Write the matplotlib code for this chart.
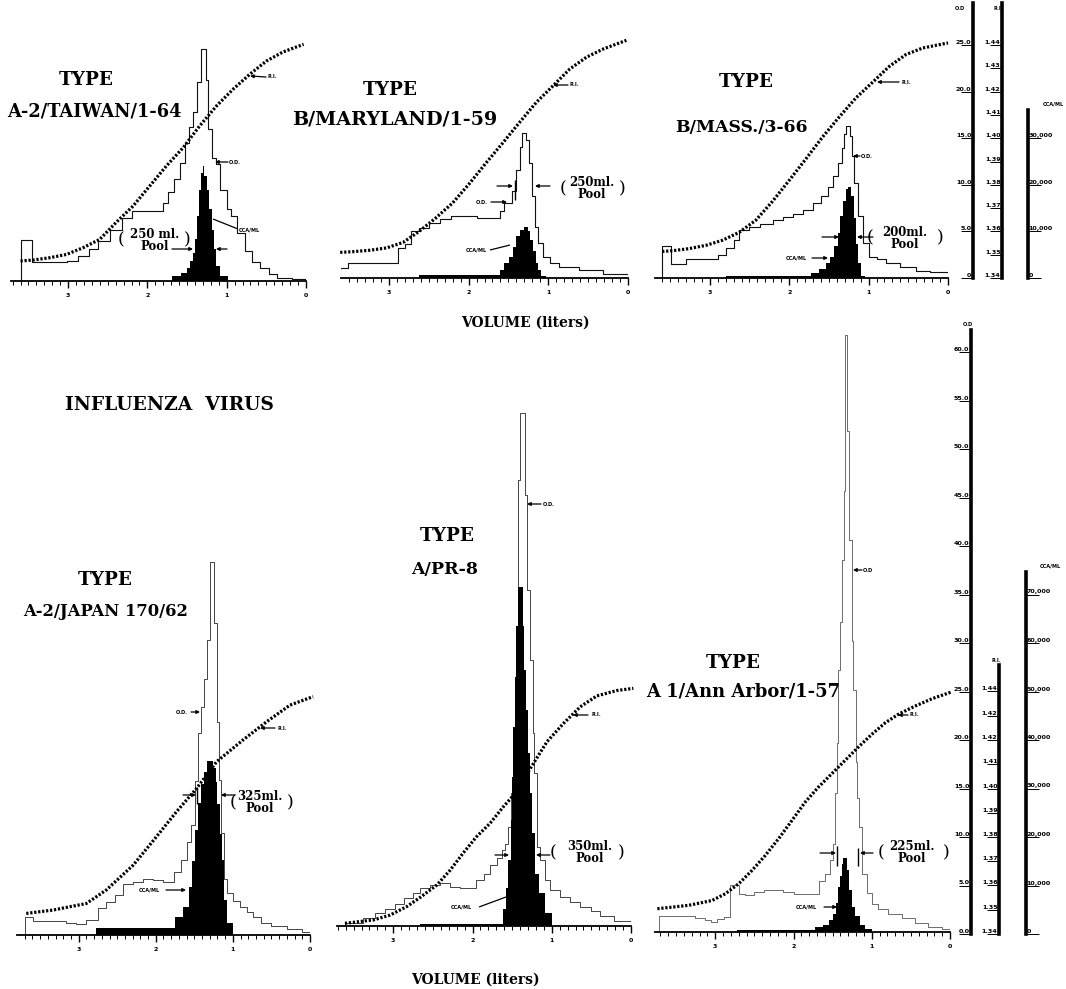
import numpy as np
import matplotlib
matplotlib.use('Agg')
import matplotlib.pyplot as plt
from matplotlib.ticker import FixedLocator

# ---------------- data (volume in liters, O.D., CCA/ML, R.I.) ----------------
titles = [("TYPE", "A-2/TAIWAN/1-64"), ("TYPE", "B/MARYLAND/1-59"), ("TYPE", "B/MASS./3-66"),
          ("TYPE", "A-2/JAPAN 170/62"), ("TYPE", "A/PR-8"), ("TYPE", "A 1/Ann Arbor/1-57")]
pool_sizes = ["250 ml.", "250ml.", "200ml.", "325ml.", "350ml.", "225ml."]

# Panel 1  A-2/TAIWAN/1-64
p1_od_vol = [3.60, 3.46, 3.02, 2.87, 2.74, 2.62, 2.47, 2.32, 2.20, 1.80, 1.74, 1.67, 1.59, 1.53, 1.48,
             1.43, 1.38, 1.32, 1.265, 1.23, 1.19, 1.13, 1.08, 1.00, 0.94, 0.87, 0.77, 0.68, 0.58, 0.47,
             0.37, 0.18, 0.0]
p1_od = [4.4, 2.0, 2.1, 2.7, 3.4, 4.3, 5.5, 6.8, 7.5, 8.4, 9.5, 10.9, 12.7, 14.8, 16.5, 18.1, 21.3, 24.9,
         21.6, 16.3, 13.2, 12.5, 9.8, 7.7, 7.0, 5.2, 3.2, 2.0, 1.4, 0.7, 0.36, 0.25]
p1_cca_vol = [1.69, 1.57, 1.50, 1.46, 1.43, 1.40, 1.37, 1.345, 1.32, 1.30, 1.28, 1.25, 1.22, 1.19, 1.16,
              1.13, 1.08, 0.98]
p1_cca = [1080, 1800, 2800, 4200, 6000, 9000, 14000, 19600, 23200, 24600, 22600, 19600, 15400, 11000,
          6800, 3200, 1080]
p1_ri_vol = [3.60, 3.44, 3.23, 3.02, 2.81, 2.60, 2.39, 2.18, 1.97, 1.76, 1.55, 1.34, 1.13, 0.92, 0.71,
             0.50, 0.29, 0.03]
p1_ri = [1.3486, 1.3490, 1.3500, 1.3514, 1.3543, 1.3579, 1.3653, 1.3722, 1.3808, 1.3894, 1.3972, 1.4066,
         1.4151, 1.4223, 1.4287, 1.4344, 1.4383, 1.4416]

# Panel 2  B/MARYLAND/1-59
p2_od_vol = [3.61, 3.51, 2.89, 2.80, 2.72, 2.62, 2.49, 2.36, 2.22, 1.90, 1.61, 1.55, 1.46, 1.40, 1.36,
             1.33, 1.28, 1.24, 1.21, 1.17, 1.13, 1.07, 0.98, 0.86, 0.61, 0.31, 0.0]
p2_od = [1.07, 1.6, 3.2, 3.6, 5.0, 5.4, 5.9, 6.3, 6.7, 6.4, 7.15, 8.0, 9.3, 11.6, 14.1, 15.6, 14.8, 12.3,
         8.8, 5.5, 3.8, 2.3, 1.6, 1.2, 0.82, 0.46]
p2_cca_vol = [2.62, 1.61, 1.55, 1.49, 1.44, 1.40, 1.36, 1.31, 1.26, 1.23, 1.19, 1.16, 1.13, 1.09, 1.03]
p2_cca = [600, 1800, 3200, 4600, 6600, 9000, 10400, 11000, 10000, 8200, 5800, 3200, 1800, 400]
p2_ri_vol = [3.61, 3.45, 3.24, 3.03, 2.82, 2.62, 2.41, 2.20, 1.99, 1.78, 1.57, 1.36, 1.15, 0.94, 0.73,
             0.52, 0.31, 0.02]
p2_ri = [1.3510, 1.3513, 1.3519, 1.3529, 1.3553, 1.3600, 1.3658, 1.3722, 1.3805, 1.3894, 1.3980, 1.4068,
         1.4154, 1.4225, 1.4297, 1.4348, 1.4383, 1.4420]

# Panel 3  B/MASS./3-66
p3_od_vol = [3.60, 3.49, 3.30, 2.90, 2.79, 2.69, 2.63, 2.50, 2.37, 2.21, 2.08, 1.95, 1.83, 1.70, 1.60,
             1.51, 1.45, 1.39, 1.34, 1.31, 1.28, 1.24, 1.21, 1.18, 1.13, 1.07, 0.99, 0.90, 0.78, 0.61,
             0.40, 0.23, 0.0]
p3_od = [3.4, 1.5, 2.0, 2.5, 3.2, 4.1, 5.2, 5.5, 5.8, 6.2, 6.5, 6.9, 7.3, 8.0, 8.8, 9.8, 10.9, 12.3, 13.9,
         15.4, 16.3, 15.2, 13.1, 10.2, 6.6, 3.75, 2.3, 2.0, 1.6, 1.2, 0.8, 0.6]
p3_cca_vol = [2.80, 1.72, 1.62, 1.54, 1.48, 1.43, 1.39, 1.36, 1.32, 1.29, 1.26, 1.22, 1.19, 1.16, 1.13,
              1.10, 1.05]
p3_cca = [500, 1100, 2000, 3200, 4600, 6800, 9600, 13200, 16600, 19000, 19600, 17600, 12800, 7200, 3200,
          400]
p3_ri_vol = [3.60, 3.47, 3.26, 3.05, 2.84, 2.63, 2.42, 2.21, 2.00, 1.79, 1.58, 1.37, 1.16, 0.95, 0.74,
             0.53, 0.32, 0.0]
p3_ri = [1.3514, 1.3517, 1.3526, 1.3540, 1.3562, 1.3596, 1.3648, 1.3729, 1.3819, 1.3911, 1.4005, 1.4091,
         1.4173, 1.4240, 1.4308, 1.4359, 1.4387, 1.4409]

# Panel 4  A-2/JAPAN 170/62
p4_od_vol = [3.69, 3.59, 3.16, 3.03, 2.90, 2.75, 2.64, 2.53, 2.42, 2.29, 2.16, 2.03, 1.90, 1.77, 1.67,
             1.59, 1.54, 1.49, 1.45, 1.41, 1.37, 1.33, 1.30, 1.25, 1.21, 1.18, 1.15, 1.12, 1.07, 1.00,
             0.91, 0.82, 0.74, 0.63, 0.50, 0.30, 0.11, 0.0]
p4_od = [1.9, 1.4, 1.2, 1.1, 1.55, 2.75, 3.4, 4.1, 5.3, 5.5, 5.8, 5.65, 5.5, 6.5, 7.7, 9.6, 11.3, 15.9,
         20.8, 23.5, 26.4, 30.4, 38.5, 32.2, 22.0, 16.0, 10.5, 5.8, 4.3, 3.5, 2.9, 2.4, 1.9, 1.2, 0.9,
         0.6, 0.3]
p4_cca_vol = [2.77, 1.745, 1.645, 1.567, 1.524, 1.49, 1.455, 1.42, 1.377, 1.333, 1.255, 1.225, 1.20,
              1.173, 1.147, 1.117, 1.082, 1.004]
p4_cca = [1400, 3800, 5800, 10000, 15200, 21600, 27200, 31200, 33600, 35800, 34400, 31600, 27000, 20800,
          15400, 7200, 2400]
p4_ri_vol = [3.68, 3.33, 2.90, 2.64, 2.29, 1.99, 1.73, 1.47, 1.21, 0.87, 0.56, 0.26, -0.04]
p4_ri = [1.3489, 1.3503, 1.3530, 1.3586, 1.3689, 1.3806, 1.3909, 1.4005, 1.4115, 1.4204, 1.4280, 1.4348,
         1.4383]

# Panel 5  A/PR-8
p5_od_vol = [3.61, 3.38, 3.23, 3.11, 2.98, 2.87, 2.75, 2.66, 2.54, 2.41, 2.28, 2.16, 2.03, 1.95, 1.86,
             1.78, 1.69, 1.63, 1.59, 1.55, 1.52, 1.49, 1.47, 1.45, 1.43, 1.40, 1.34, 1.31, 1.27, 1.24,
             1.22, 1.19, 1.15, 1.08, 1.02, 0.89, 0.77, 0.64, 0.51, 0.39, 0.22, 0.0]
p5_od = [0.35, 0.8, 1.3, 1.8, 2.3, 2.9, 3.4, 3.9, 4.2, 4.4, 4.05, 3.9, 3.9, 4.7, 5.4, 6.3, 7.0, 7.8, 8.5,
         10.2, 13.7, 16.1, 22.3, 27.4, 46.0, 52.9, 44.4, 34.6, 27.4, 19.9, 15.8, 8.1, 6.8, 4.7, 3.7, 3.0,
         2.5, 2.0, 1.5, 1.0, 0.5]
p5_cca_vol = [2.66, 1.61, 1.576, 1.547, 1.52, 1.50, 1.483, 1.466, 1.45, 1.429, 1.365, 1.344, 1.323,
              1.302, 1.273, 1.243, 1.209, 1.155, 1.083, 0.999]
p5_cca = [500, 3600, 7800, 13600, 21800, 30800, 41000, 51400, 61800, 70000, 61800, 52800, 44600, 35600,
          27400, 19200, 10800, 6800, 2600]
p5_ri_vol = [3.61, 3.25, 3.04, 2.83, 2.66, 2.45, 2.28, 2.12, 1.95, 1.78, 1.61, 1.48, 1.27, 1.06, 0.85,
             0.64, 0.43, 0.18, -0.03]
p5_ri = [1.3411, 1.3425, 1.3445, 1.3480, 1.3518, 1.3569, 1.3631, 1.3700, 1.3768, 1.3823, 1.3892, 1.3940,
         1.4050, 1.4160, 1.4236, 1.4304, 1.4349, 1.4371, 1.4380]

# Panel 6  A 1/Ann Arbor/1-57
p6_od_vol = [3.72, 3.26, 3.13, 3.06, 2.98, 2.89, 2.81, 2.70, 2.62, 2.51, 2.38, 2.26, 2.13, 2.00, 1.81,
             1.68, 1.60, 1.53, 1.49, 1.47, 1.45, 1.43, 1.40, 1.38, 1.36, 1.34, 1.31, 1.285, 1.255, 1.234,
             1.204, 1.183, 1.157, 1.128, 1.064, 1.00, 0.915, 0.787, 0.617, 0.447, 0.277, 0.106, 0.0]
p6_od = [1.7, 1.4, 1.2, 1.0, 1.35, 1.5, 4.8, 3.9, 3.8, 4.1, 4.3, 4.3, 4.1, 3.9, 3.9, 5.3, 6.0, 7.4, 9.1,
         14.3, 19.5, 27.0, 32.0, 38.3, 45.5, 61.5, 51.6, 40.4, 30.0, 24.9, 17.5, 13.8, 10.8, 6.0, 4.0, 2.9,
         2.4, 1.9, 1.4, 0.9, 0.5, 0.35]
p6_cca_vol = [2.72, 1.72, 1.62, 1.545, 1.49, 1.46, 1.434, 1.409, 1.383, 1.366, 1.315, 1.289, 1.255,
              1.213, 1.149, 1.085, 1.0]
p6_cca = [500, 1000, 1400, 2400, 3800, 6000, 9200, 11600, 14000, 15200, 12800, 8600, 5200, 3200, 1400, 700]
p6_ri_vol = [3.74, 3.34, 3.04, 2.87, 2.70, 2.53, 2.36, 2.19, 2.02, 1.85, 1.68, 1.51, 1.34, 1.17, 1.00,
             0.83, 0.66, 0.45, 0.23, -0.02]
p6_ri = [1.3496, 1.3510, 1.3530, 1.3558, 1.3599, 1.3654, 1.3716, 1.3785, 1.3860, 1.3936, 1.3998, 1.4053,
         1.4108, 1.4163, 1.4215, 1.4262, 1.4298, 1.4331, 1.4362, 1.4390]

vol_ticks = [0, 1, 2, 3]
vol_tick_labels = ["0", "1", "2", "3"]

top_od_ticks = [0, 5, 10, 15, 20, 25]
top_od_labels = ["0", "5.0", "10.0", "15.0", "20.0", "25.0"]
top_ri_ticks = [1.34, 1.35, 1.36, 1.37, 1.38, 1.39, 1.40, 1.41, 1.42, 1.43, 1.44]
top_ri_labels = ["1.34", "1.35", "1.36", "1.37", "1.38", "1.39", "1.40", "1.41", "1.42", "1.43", "1.44"]
top_cca_ticks = [0, 10000, 20000, 30000]
top_cca_labels = ["0", "10,000", "20,000", "30,000"]
bot_od_ticks = [0, 5, 10, 15, 20, 25, 30, 35, 40, 45, 50, 55, 60]
bot_od_labels = ["0.0", "5.0", "10.0", "15.0", "20.0", "25.0", "30.0", "35.0", "40.0", "45.0", "50.0",
                 "55.0", "60.0"]
bot_ri_ticks = top_ri_ticks
bot_ri_labels = ["1.34", "1.35", "1.36", "1.37", "1.38", "1.39", "1.40", "1.41", "1.42", "1.42", "1.44"]
bot_cca_ticks = [0, 10000, 20000, 30000, 40000, 50000, 60000, 70000]
bot_cca_labels = ["0", "10,000", "20,000", "30,000", "40,000", "50,000", "60,000", "70,000"]

# scale relations: 25 O.D. <-> R.I. 1.44, 10,000 CCA/ML <-> 5 O.D.
RI_BASE, RI_PER_OD = 1.34, 0.004
CCA_PER_OD = 2000.0

# ---------------- figure ----------------
W, H = 1066, 989
fig = plt.figure(figsize=(W / 100, H / 100), dpi=100)
SERIF = ['DejaVu Serif']
SANS = ['DejaVu Sans']


def ax_px(left, top, width, height):
    return fig.add_axes([left / W, 1 - (top + height) / H, width / W, height / H])


def panel(left, right, bottom, vmax, ymax, pxu, od_vol, od, cca_vol, cca, ri_vol, ri, od_color, od_lw):
    height = ymax * pxu
    ax = ax_px(left, bottom - height, right - left, height)
    ax.set_xlim(vmax, 0)
    ax.set_ylim(0, ymax)
    ax.patch.set_alpha(0)
    for s in ['top', 'right', 'left']:
        ax.spines[s].set_visible(False)
    ax.spines['bottom'].set_linewidth(1.3)
    ax.set_yticks([])
    ax.xaxis.set_major_locator(FixedLocator(vol_ticks))
    ax.xaxis.set_minor_locator(FixedLocator(np.round(np.arange(0, vmax, 0.1), 2)))
    ax.set_xticklabels(vol_tick_labels, fontsize=4.5, fontweight='bold', family=SANS)
    ax.tick_params(axis='x', which='major', length=5, width=1.0, pad=3.5, direction='out')
    ax.tick_params(axis='x', which='minor', length=3, width=0.7, direction='out')
    # O.D. step trace
    xs = [od_vol[0]] + list(od_vol)
    ys = [0] + list(od) + [od[-1]]
    ax.step(xs, ys, where='post', color=od_color, lw=od_lw, zorder=2)
    # CCA/ML filled histogram
    cy = [c / CCA_PER_OD for c in cca] + [0]
    ax.fill_between(cca_vol, cy, step='post', color='black', lw=0, zorder=3)
    # R.I. dotted curve
    ri_y = [(r - RI_BASE) / RI_PER_OD for r in ri]
    ax.plot(ri_vol, ri_y, color='black', lw=2.3, linestyle=(0, (0.7, 0.55)), clip_on=False, zorder=4)
    return ax


TOP_PX = 9.32
BOT_PX = 9.7
panel(11, 306, 281, 3.72, 26.5, TOP_PX, p1_od_vol, p1_od, p1_cca_vol, p1_cca, p1_ri_vol, p1_ri, '#111', 0.8)
panel(341, 628, 278, 3.60, 26.5, TOP_PX, p2_od_vol, p2_od, p2_cca_vol, p2_cca, p2_ri_vol, p2_ri, '#111', 0.8)
panel(655, 948, 278, 3.69, 26.5, TOP_PX, p3_od_vol, p3_od, p3_cca_vol, p3_cca, p3_ri_vol, p3_ri, '#111', 0.8)
panel(17, 310, 935, 3.80, 63, BOT_PX, p4_od_vol, p4_od, p4_cca_vol, p4_cca, p4_ri_vol, p4_ri, '#444', 0.7)
panel(337, 631, 926, 3.71, 63, BOT_PX, p5_od_vol, p5_od, p5_cca_vol, p5_cca, p5_ri_vol, p5_ri, '#444', 0.7)
panel(655, 950, 932, 3.77, 63, BOT_PX, p6_od_vol, p6_od, p6_cca_vol, p6_cca, p6_ri_vol, p6_ri, '#555', 0.6)


def scale_axis(x, top, bottom, lo, hi, ticks, labels, side):
    a = fig.add_axes([(x - 0.5) / W, 1 - bottom / H, 1 / W, (bottom - top) / H])
    a.set_ylim(lo, hi)
    a.set_xticks([])
    a.patch.set_alpha(0)
    for s in a.spines.values():
        s.set_visible(False)
    a.spines[side].set_visible(True)
    a.spines[side].set_linewidth(2.6)
    a.yaxis.set_ticks_position(side)
    a.yaxis.set_label_position(side)
    a.set_yticks(ticks)
    a.set_yticklabels(labels, fontsize=4.6, fontweight='bold', family=SANS)
    a.tick_params(axis='y', length=9, width=0.7, pad=-8.3, direction='out')
    for t in a.get_yticklabels():
        t.set_va('bottom')
    return a


scale_axis(973, 3, 278, 0, 275 / TOP_PX, top_od_ticks, top_od_labels, 'left')
scale_axis(1002, 3, 278, 1.34, 1.34 + 0.01 * 275 / 23.3, top_ri_ticks, top_ri_labels, 'left')
scale_axis(1027, 110, 278, 0, 168 / TOP_PX * CCA_PER_OD, top_cca_ticks, top_cca_labels, 'right')
scale_axis(971, 330, 934, 0, 604 / BOT_PX, bot_od_ticks, bot_od_labels, 'left')
scale_axis(999, 665, 934, 1.34, 1.34 + 0.01 * 269 / 24.25, bot_ri_ticks, bot_ri_labels, 'left')
scale_axis(1025, 572, 934, 0, 362 / BOT_PX * CCA_PER_OD, bot_cca_ticks, bot_cca_labels, 'right')

# ---------------- overlay for text and pointers (pixel coordinates) ----------------
ov = fig.add_axes([0, 0, 1, 1], zorder=10)
ov.set_xlim(0, W)
ov.set_ylim(H, 0)
ov.axis('off')
ov.patch.set_alpha(0)


def txt(x, y, s, size, ha='center', va='center', weight='bold', fam=SERIF):
    ov.text(x, y, s, fontsize=size, ha=ha, va=va, fontweight=weight, family=fam)


def arrow(x1, y1, x2, y2):
    ov.annotate('', xy=(x2, y2), xytext=(x1, y1),
                arrowprops=dict(arrowstyle='-|>', color='black', lw=0.9, mutation_scale=5,
                                shrinkA=0, shrinkB=0))


def line(x1, y1, x2, y2, lw=0.9):
    ov.plot([x1, x2], [y1, y2], color='black', lw=lw, solid_capstyle='butt')


def small(x, y, s):
    txt(x, y, s, 3.6, ha='left', fam=SANS)


def pool(cx, cy, size_txt, lpx, rpx):
    txt(cx, cy - 6, size_txt, 8.4)
    txt(cx, cy + 6, "Pool", 8.4)
    txt(lpx, cy, "(", 12.5, weight='normal')
    txt(rpx, cy, ")", 12.5, weight='normal')


# titles
title_pos = [((86, 80), (94, 112)), ((390, 90), (395, 119)), ((746, 82), (741, 127)),
             ((105, 580), (106, 612)), ((447, 536), (445, 569)), ((733, 663), (743, 692))]
title_sizes = [12.8, 13.8, 12.4, 11.8, 12.5, 12.9]
for (t1, t2), ((x1, y1), (x2, y2)), fs in zip(titles, title_pos, title_sizes):
    txt(x1, y1, t1, 13.2)
    txt(x2, y2, t2, fs)

txt(169, 405, "INFLUENZA  VIRUS", 13.5)
txt(525, 323, "VOLUME (liters)", 10)
txt(475, 980, "VOLUME (liters)", 10)

# Panel 1 pointers
pool(155, 240, pool_sizes[0], 121, 187)
arrow(172, 249, 193, 249)
arrow(227, 249, 216, 249)
small(229, 162, "O.D.")
arrow(228, 162, 215, 162)
small(239, 230, "CCA/ML")
line(213, 219, 238, 229)
small(268, 77, "R.I.")
arrow(266, 77, 250, 76)

# Panel 2 pointers
pool(592, 189, pool_sizes[1], 563, 622)
arrow(497, 186, 513, 186)
line(515, 180, 515, 200, lw=1.0)
arrow(550, 186, 535, 186)
small(476, 202, "O.D.")
arrow(491, 202, 507, 202)
small(466, 250, "CCA/ML")
line(490, 250, 510, 245)
small(570, 85, "R.I.")
arrow(568, 85, 553, 85)

# Panel 3 pointers
pool(905, 238, pool_sizes[2], 870, 940)
arrow(822, 237, 839, 237)
arrow(873, 237, 857, 237)
small(861, 156, "O.D.")
arrow(860, 156, 853, 156)
small(786, 258, "CCA/ML")
arrow(812, 258, 828, 258)
small(901, 83, "R.I.")
arrow(899, 82, 877, 82)

# Panel 4 pointers
pool(260, 803, pool_sizes[3], 233, 290)
arrow(183, 795, 196, 795)
line(197, 787, 197, 804, lw=1.0)
arrow(235, 795, 221, 795)
small(176, 712, "O.D.")
arrow(191, 712, 200, 712)
small(277, 728, "R.I.")
arrow(275, 728, 260, 728)
small(139, 890, "CCA/ML")
arrow(166, 890, 186, 890)

# Panel 5 pointers
pool(590, 853, pool_sizes[4], 553, 621)
arrow(495, 855, 509, 855)
arrow(550, 855, 536, 855)
small(543, 504, "O.D.")
arrow(541, 504, 527, 504)
small(591, 715, "R.I.")
arrow(588, 715, 573, 715)
small(451, 907, "CCA/ML")
line(479, 907, 506, 897)

# Panel 6 pointers
pool(912, 853, pool_sizes[5], 881, 946)
arrow(820, 853, 836, 853)
line(837, 846, 837, 866, lw=1.0)
line(858, 848, 858, 866, lw=1.0)
arrow(873, 853, 860, 853)
small(863, 570, "O.D")
arrow(862, 570, 853, 570)
small(910, 715, "R.I.")
arrow(908, 715, 898, 715)
small(796, 907, "CCA/ML")
arrow(824, 907, 837, 907)

# scale headings
small(955, 8, "O.D")
small(994, 8, "R.I.")
small(1043, 104, "CCA/ML")
small(963, 325, "O.D")
small(992, 661, "R.I.")
small(1040, 566, "CCA/ML")

fig.savefig("out.png", dpi=100)
